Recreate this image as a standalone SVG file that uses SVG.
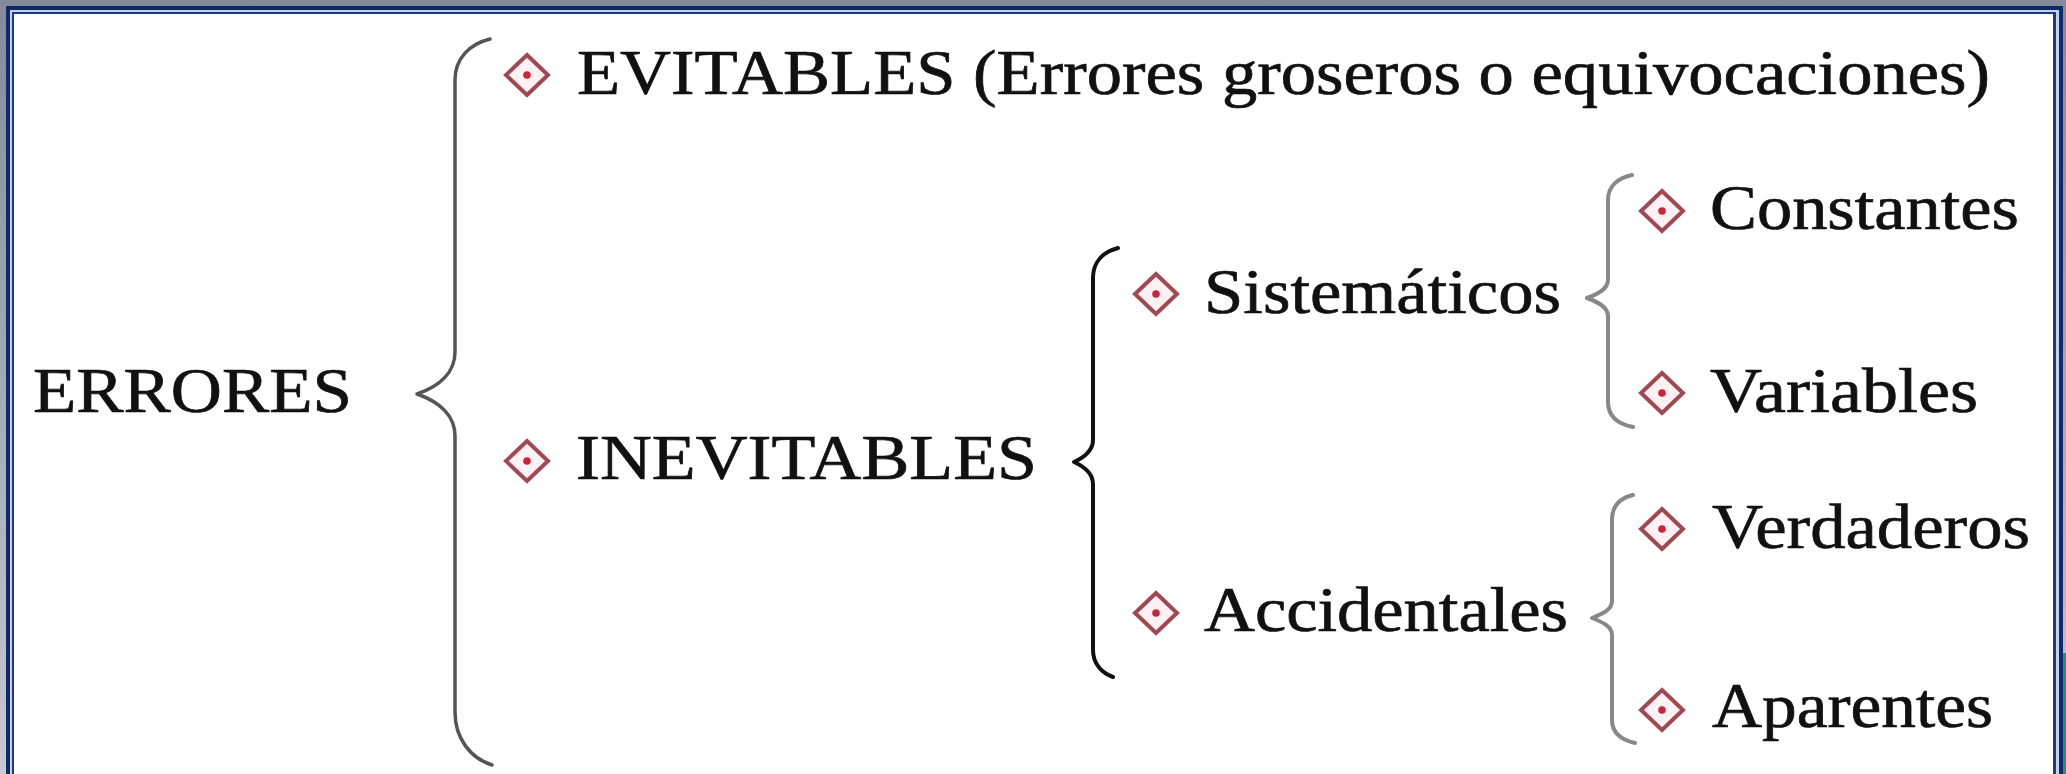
<svg xmlns="http://www.w3.org/2000/svg" width="2066" height="774" viewBox="0 0 2066 774">
<defs>
<linearGradient id="bg" x1="0" y1="0" x2="0" y2="1">
<stop offset="0" stop-color="#848a9a"/>
<stop offset="1" stop-color="#c6c9cf"/>
</linearGradient>
<g id="bullet">
<polygon points="0,-20 21,0 0,20 -21,0" fill="#fff0f3" stroke="#9e4954" stroke-width="4" stroke-linejoin="miter"/>
<circle cx="0" cy="0" r="3.8" fill="#c3283c"/>
</g>
</defs>
<style>
text { font-family: "Liberation Serif", "Times New Roman", serif; font-size: 63px; fill: #111; stroke: #111; stroke-width: 0.7px; }
.brace { fill: none; stroke-linecap: round; stroke-linejoin: round; }
</style>
<rect x="0" y="0" width="2066" height="774" fill="url(#bg)"/>
<rect x="6" y="6" width="2057" height="800" fill="#0c2a6c"/>
<rect x="10" y="10" width="2049" height="800" fill="#c9d0df"/>
<rect x="12" y="12" width="2044" height="800" fill="#1b3a80"/>
<rect x="14" y="14" width="2039" height="800" fill="#ffffff"/>
<rect x="2063" y="653" width="3" height="121" fill="#1a9090"/>

<g id="connectors">
<path class="brace" stroke="#555" stroke-width="3.5" d="M 490 39 C 470 44 455 58 455 80 L 455 352 C 455 372 440 386 417 394 C 440 402 455 416 455 436 L 455 712 C 455 738 470 758 492 765"/>
<path class="brace" stroke="#111" stroke-width="4" d="M 1118 248 C 1103 252 1093 262 1093 278 L 1093 440 C 1093 450 1085 457 1074 462 C 1085 467 1093 474 1093 484 L 1093 650 C 1093 664 1102 673 1113 677"/>
<path class="brace" stroke="#888" stroke-width="4" d="M 1632 175 C 1618 178 1608 186 1608 200 L 1608 280 C 1608 289 1598 294 1587 298 C 1598 302 1608 307 1608 316 L 1608 402 C 1608 416 1618 424 1633 427"/>
<path class="brace" stroke="#888" stroke-width="4" d="M 1633 495 C 1620 498 1612 506 1612 520 L 1612 601 C 1612 610 1602 614 1592 618 C 1602 622 1612 626 1612 635 L 1612 720 C 1612 734 1622 740 1635 743"/>
</g>

<g id="errores">
<text x="33" y="412" textLength="319" lengthAdjust="spacingAndGlyphs">ERRORES</text>
</g>
<g id="evitables">
<use href="#bullet" x="527" y="75"/>
<text x="577" y="94" textLength="1413" lengthAdjust="spacingAndGlyphs">EVITABLES (Errores groseros o equivocaciones)</text>
</g>
<g id="inevitables">
<use href="#bullet" x="527" y="461"/>
<text x="576" y="479" textLength="461" lengthAdjust="spacingAndGlyphs">INEVITABLES</text>
</g>
<g id="sistematicos">
<use href="#bullet" x="1156" y="294"/>
<text x="1204" y="313" textLength="357" lengthAdjust="spacingAndGlyphs">Sistemáticos</text>
</g>
<g id="accidentales">
<use href="#bullet" x="1156" y="613"/>
<text x="1204" y="631" textLength="364" lengthAdjust="spacingAndGlyphs">Accidentales</text>
</g>
<g id="constantes">
<use href="#bullet" x="1662" y="211"/>
<text x="1710" y="229" textLength="309" lengthAdjust="spacingAndGlyphs">Constantes</text>
</g>
<g id="variables">
<use href="#bullet" x="1662" y="393"/>
<text x="1710" y="412" textLength="268" lengthAdjust="spacingAndGlyphs">Variables</text>
</g>
<g id="verdaderos">
<use href="#bullet" x="1662" y="529"/>
<text x="1712" y="548" textLength="318" lengthAdjust="spacingAndGlyphs">Verdaderos</text>
</g>
<g id="aparentes">
<use href="#bullet" x="1662" y="710"/>
<text x="1712" y="727" textLength="281" lengthAdjust="spacingAndGlyphs">Aparentes</text>
</g>
</svg>
